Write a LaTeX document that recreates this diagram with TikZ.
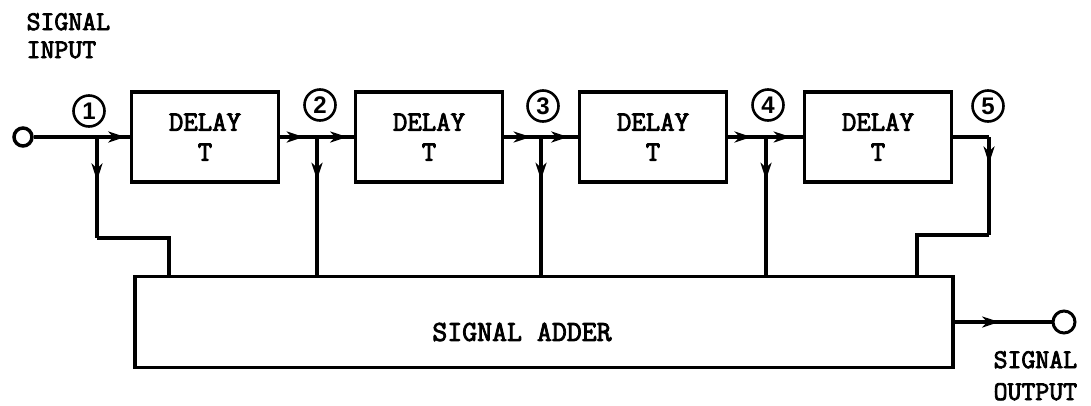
\documentclass[tikz,border=0pt]{standalone}
\usepackage{fontspec}
\newfontfamily\tw{Latin Modern Mono}[AutoFakeBold=3]
\newfontfamily\digitfont{Liberation Sans}
\usetikzlibrary{arrows.meta,decorations.markings,calc}
\tikzset{
  marr/.style={postaction={decorate},
    decoration={markings, mark=at position #1 with {\arrow{Stealth[length=17pt,width=11pt,inset=5pt]}}}},
  delaybox/.style={draw, rectangle, minimum width=147pt, minimum height=90pt, inner sep=0pt,
    align=center, font=\tw\bfseries\fontsize{28}{30}\selectfont},
  adderbox/.style={draw, rectangle, minimum width=818pt, minimum height=91pt, inner sep=0pt},
  numc/.style={draw, circle, minimum size=31pt, inner sep=0pt, line width=2.6pt,
    font=\digitfont\bfseries\fontsize{24}{24}\selectfont},
  term/.style={draw, circle, minimum size=18pt, inner sep=0pt, line width=3.5pt},
  lbl/.style={font=\tw\bfseries\fontsize{27}{28}\selectfont, inner sep=0pt, anchor=base west},
  addtxt/.style={font=\tw\bfseries\fontsize{29}{30}\selectfont, inner sep=0pt}
}
\begin{document}
\begin{tikzpicture}[x=1pt,y=-1pt,line width=3.3pt,line join=miter]
\useasboundingbox (0,0) rectangle (1091,405);

% labels
\node[lbl] (inlbl1) at (25,30) {SIGNAL};
\node[lbl] (inlbl2) at (25,58) {INPUT};
\node[lbl] (outlbl1) at (992,368) {SIGNAL};
\node[lbl] (outlbl2) at (992,400) {OUTPUT};

% terminals
\node[term] (in) at (23,137) {};
\node[term,minimum size=22pt,line width=3pt] (out) at (1064,322) {};

% delay boxes
\node[delaybox] (d1) at (205,137) {DELAY\\T};
\node[delaybox] (d2) at (429,137) {DELAY\\T};
\node[delaybox] (d3) at (653,137) {DELAY\\T};
\node[delaybox] (d4) at (878,137) {DELAY\\T};

% adder
\node[adderbox] (add) at (544,322) {};
\node[addtxt] (addlbl) at (522,332) {SIGNAL ADDER};

% tap numbers
\node[numc] (n1) at (89,111) {1};
\node[numc] (n2) at (320,105) {2};
\node[numc] (n3) at (543,106) {3};
\node[numc] (n4) at (768,105) {4};
\node[numc] (n5) at (988,106) {5};

% junctions
\coordinate (j1) at (97,137);
\coordinate (j2) at (317,137);
\coordinate (j3) at (541,137);
\coordinate (j4) at (766,137);

% signal line
\draw (in) -- (j1);
\draw[marr=0.86] (j1) -- (d1.west);
\draw[marr=0.64] (d1.east) -- (j2);
\draw[marr=0.82] (j2) -- (d2.west);
\draw[marr=0.72] (d2.east) -- (j3);
\draw[marr=0.74] (j3) -- (d3.west);
\draw[marr=0.62] (d3.east) -- (j4);
\draw[marr=0.67] (j4) -- (d4.west);

% taps to adder
\coordinate (c1) at (97,238);
\coordinate (c1b) at (169,238);
\draw[marr=0.43] (j1) -- (c1);
\draw (c1) -- (c1b) -- (c1b |- add.north);
\draw[marr=0.31] (j2) -- (j2 |- add.north);
\draw[marr=0.31] (j3) -- (j3 |- add.north);
\draw[marr=0.31] (j4) -- (j4 |- add.north);

\coordinate (c5a) at (989,137);
\coordinate (c5b) at (989,235);
\coordinate (c5c) at (917,235);
\draw (d4.east) -- (c5a);
\draw[marr=0.27] (c5a) -- (c5b);
\draw (c5b) -- (c5c) -- (c5c |- add.north);

% output
\draw[marr=0.46] (add.east) -- (out);
\end{tikzpicture}
\end{document}
